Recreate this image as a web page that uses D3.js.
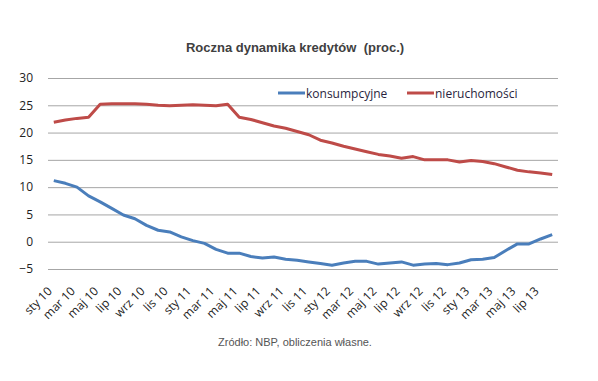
<!DOCTYPE html>
<html><head><meta charset="utf-8">
<script src="https://cdn.jsdelivr.net/npm/d3@7"></script>
<style>body{margin:0;background:#fff}svg{display:block}</style>
</head><body>
<svg id="c" width="598" height="381"></svg>
<script>
const months = ["sty","lut","mar","kwi","maj","cze","lip","sie","wrz","paź","lis","gru"];
const years = ["10","11","12","13"];
const categories = [];
for (const y of years) for (const m of months) categories.push(m + " " + y);
categories.length = 44; // sty 10 .. sie 13

const konsumpcyjne = [11.2,10.7,10.0,8.4,7.3,6.1,4.9,4.2,3.0,2.1,1.8,0.9,
  0.2,-0.3,-1.4,-2.1,-2.1,-2.7,-3.0,-2.8,-3.2,-3.4,-3.7,-4.0,
  -4.3,-3.9,-3.6,-3.6,-4.1,-3.9,-3.7,-4.3,-4.1,-4.0,-4.2,-3.9,
  -3.3,-3.2,-2.9,-1.6,-0.4,-0.4,0.5,1.3];
const nieruchomosci = [21.9,22.3,22.6,22.8,25.2,25.3,25.3,25.3,25.2,25.0,24.9,25.0,
  25.1,25.0,24.9,25.2,22.8,22.4,21.8,21.2,20.8,20.2,19.6,18.6,
  18.1,17.5,17.0,16.5,16.0,15.7,15.3,15.6,15.0,15.0,15.0,14.6,
  14.9,14.7,14.3,13.7,13.1,12.8,12.6,12.3];
const yTicks = [-5,0,5,10,15,20,25,30];
const seriesNames = ["konsumpcyjne","nieruchomości"];
const colors = ["#4A7EBB","#BE4B48"];

const svg = d3.select("#c");
const L = 48, R = 558, T = 78, B = 269;
const x = d3.scaleBand().domain(categories).range([L, R]);
const y = d3.scaleLinear().domain([-5, 30]).range([B, T]);
const font = "'Liberation Sans', Arial, sans-serif";
const font2 = "'Open Sans', Calibri, sans-serif";

// title
svg.append("text").attr("x", 295).attr("y", 52).attr("text-anchor","middle")
  .attr("font-family", font).attr("font-weight","bold").attr("font-size", 13)
  .attr("fill","#404040").attr("xml:space","preserve").text("Roczna dynamika kredytów  (proc.)");

// gridlines + y axis
const ya = d3.axisLeft(y).tickValues(yTicks).tickSize(-(R - L)).tickPadding(15);
const yg = svg.append("g").attr("transform", `translate(${L},0)`).call(ya);
yg.select(".domain").remove();
yg.selectAll(".tick line").attr("stroke","#a6a6a6").attr("stroke-width",1);
yg.selectAll(".tick text").attr("font-family", font2).attr("font-size", 12).attr("fill","#222");

// x axis labels
const labelCats = categories.filter((d,i) => i % 2 === 0);
const xa = d3.axisBottom(x).tickValues(labelCats).tickSize(0).tickPadding(0);
const xg = svg.append("g").attr("transform", `translate(0,${B})`).call(xa);
xg.select(".domain").remove();
xg.selectAll(".tick text").attr("font-family", font2).attr("font-size", 12).attr("fill","#222")
  .attr("text-anchor","end").attr("dy", null).attr("y", 0)
  .attr("transform","translate(-1,23) rotate(-45)");

// lines
const line = d3.line().x((d,i) => x(categories[i]) + x.bandwidth()/2).y(d => y(d));
[konsumpcyjne, nieruchomosci].forEach((s, k) => {
  svg.append("path").datum(s).attr("d", line).attr("fill","none")
    .attr("stroke", colors[k]).attr("stroke-width", 3).attr("stroke-linejoin","round");
});

// legend
const legX = [278, 407];
seriesNames.forEach((n, k) => {
  svg.append("line").attr("x1", legX[k]).attr("x2", legX[k] + 27).attr("y1", 93).attr("y2", 93)
    .attr("stroke", colors[k]).attr("stroke-width", 3);
  svg.append("text").attr("x", legX[k] + 28).attr("y", 97.5).attr("font-family", font2)
    .attr("font-size", 12).attr("fill","#2a1f3d").text(n);
});

// source
svg.append("text").attr("x", 295).attr("y", 346).attr("text-anchor","middle")
  .attr("font-family", font).attr("font-size", 11).attr("fill","#555").text("Zródło: NBP, obliczenia własne.");
</script>
</body></html>
